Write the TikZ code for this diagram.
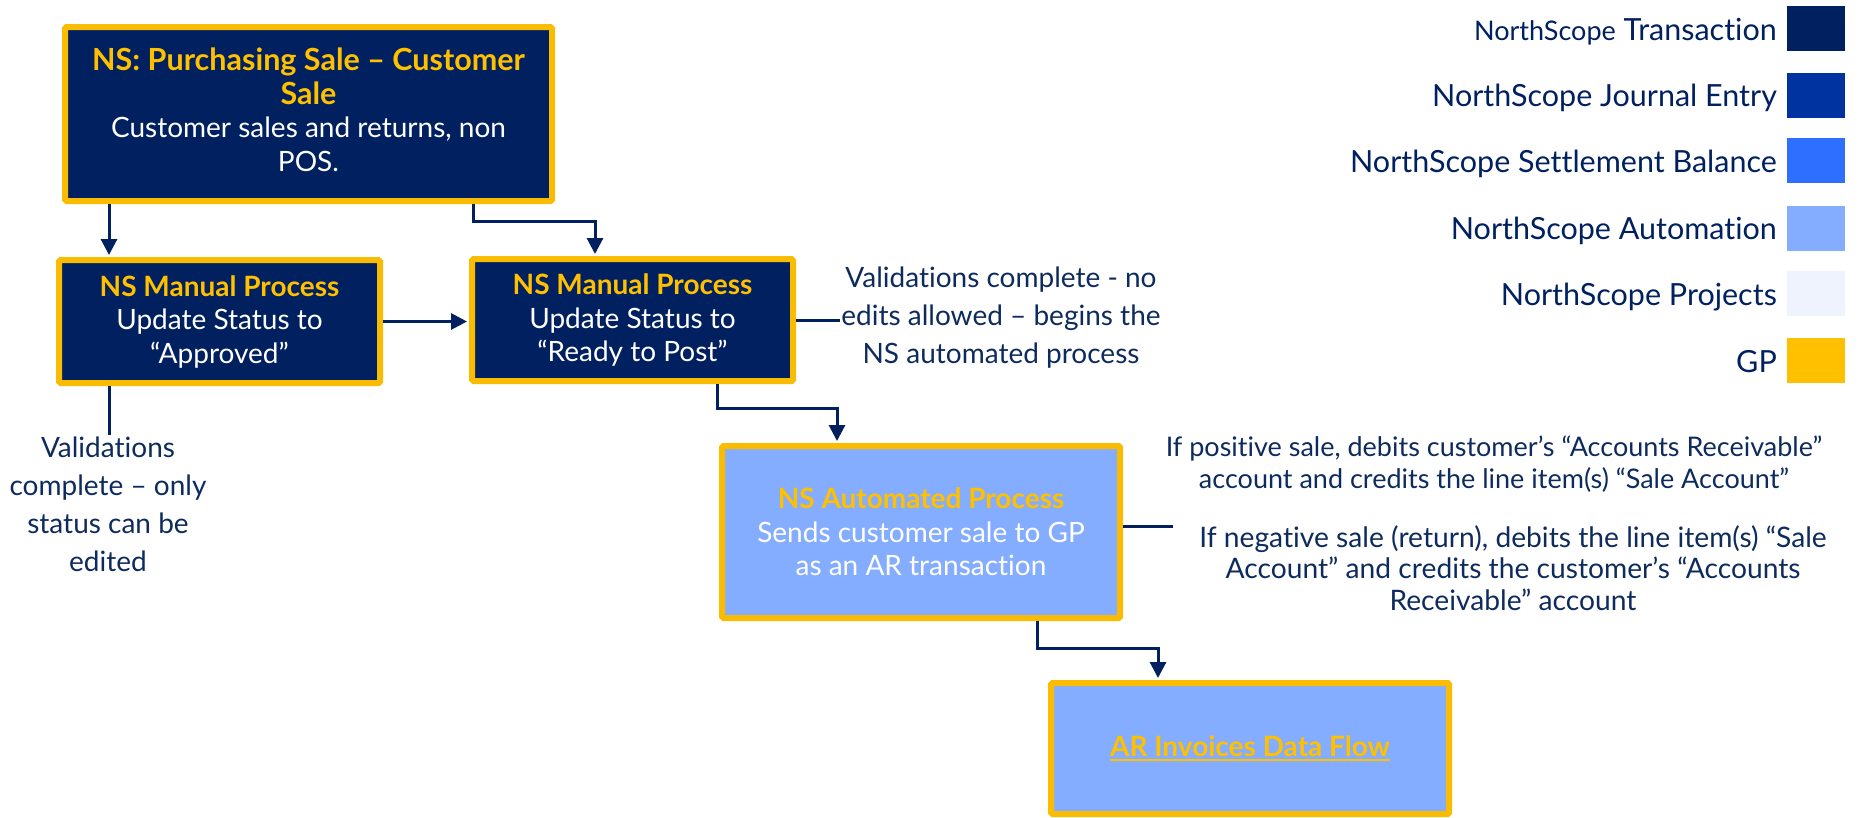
\documentclass[tikz,border=0pt]{standalone}
\usepackage{fontspec}
\setmainfont[RawFeature={-liga;-dlig}]{Lato}
\usetikzlibrary{arrows.meta,calc}
\definecolor{navy}{HTML}{002060}
\definecolor{jec}{HTML}{0033A0}
\definecolor{sbc}{HTML}{2F6FFF}
\definecolor{autoc}{HTML}{85ADFF}
\definecolor{projc}{HTML}{EEF3FE}
\definecolor{gpy}{HTML}{FFC000}
\definecolor{bordy}{HTML}{F9BC00}
\definecolor{notec}{HTML}{0E2B5E}
\newcommand\thickul[1]{\leavevmode\vtop{\hbox{#1}\kern1.5pt\hrule height 2.5pt}}
\newcommand\bigttl[1]{\textbf{\fontsize{30.5}{35}\selectfont\color{gpy}#1}}
\begin{document}
\begin{tikzpicture}[x=1pt,y=-1pt,
  boxbase/.style={draw=bordy, line width=6pt, rounded corners=1.5pt, align=center, inner sep=0pt, font=\fontsize{28}{33.5}\selectfont},
  tbox/.style={boxbase, fill=navy, text=white},
  abox/.style={boxbase, fill=autoc, text=white},
  arr/.style={draw=navy, line width=3pt, shorten >=2pt, -{Triangle[length=16pt,width=16pt]}},
  con/.style={draw=navy, line width=3pt},
  notetxt/.style={text=notec, align=center, font=\fontsize{28}{38}\selectfont, inner sep=1pt},
  notetxtb/.style={text=notec, align=center, font=\fontsize{27}{32}\selectfont, inner sep=1pt},
  notetxtc/.style={text=notec, align=center, font=\fontsize{28.2}{31.5}\selectfont, inner sep=1pt},
  legtxt/.style={anchor=east, text=navy, font=\fontsize{30.5}{36}\selectfont, inner sep=0pt},
  swatch/.style={minimum width=58pt, minimum height=45pt, inner sep=0pt, anchor=north west, draw=none}
]
\useasboundingbox (0,0) rectangle (1873,817);

% legend
\node[legtxt] (l1) at (1777,32) {{\fontsize{27}{30}\selectfont NorthScope} Transaction};
\node[legtxt] (l2) at (1777,98) {NorthScope Journal Entry};
\node[legtxt] (l3) at (1777,164) {NorthScope Settlement Balance};
\node[legtxt] (l4) at (1777,231) {NorthScope Automation};
\node[legtxt] (l5) at (1777,297) {NorthScope Projects};
\node[legtxt] (l6) at (1777,362) {GP};
\node[swatch, fill=navy] (s1) at (1787,6) {};
\node[swatch, fill=jec] (s2) at (1787,73) {};
\node[swatch, fill=sbc] (s3) at (1787,138) {};
\node[swatch, fill=autoc] (s4) at (1787,206) {};
\node[swatch, fill=projc] (s5) at (1787,271) {};
\node[swatch, fill=gpy] (s6) at (1787,338) {};

% boxes
\node[tbox, minimum width=487pt, minimum height=174pt] (b1) at (308.5,114) {};
\node[align=center, text=white, inner sep=0pt, font=\fontsize{28}{33.5}\selectfont] (b1t) at ([yshift=4pt]b1.center)
  {\bigttl{NS: Purchasing Sale – Customer}\\\bigttl{Sale}\\Customer sales and returns, non\\POS.};
\node[tbox, minimum width=321pt, minimum height=123pt] (b2) at (219.5,321.5)
  {\textbf{\color{gpy}NS Manual Process}\\Update Status to\\“Approved”};
\node[tbox, minimum width=321pt, minimum height=122pt] (b3) at (632.5,320)
  {\textbf{\color{gpy}NS Manual Process}\\Update Status to\\“Ready to Post”};
\node[abox, minimum width=398pt, minimum height=172pt] (b4) at (921,532)
  {\textbf{\color{gpy}NS Automated Process}\\Sends customer sale to GP\\as an AR transaction};
\node[abox, minimum width=398pt, minimum height=131pt] (b5) at (1250,748.5)
  {\color{gpy}\thickul{\textbf{AR Invoices Data Flow}}};

% notes
\node[notetxt] (n1) at (108,504) {Validations\\complete – only\\status can be\\edited};
\node[notetxt] (n2) at (1001,318) {Validations complete - no\\edits allowed – begins the\\NS automated process};
\node[notetxtb] (n3) at (1494,464) {If positive sale, debits customer’s “Accounts Receivable”\\account and credits the line item(s) “Sale Account”};
\node[notetxtc] (n4) at (1513,568) {If negative sale (return), debits the line item(s) “Sale\\Account” and credits the customer’s “Accounts\\Receivable” account};

% helper coordinates
\coordinate (x1) at (109,0);
\coordinate (x2) at (473,0);
\coordinate (x3) at (595,0);
\coordinate (x4) at (717,0);
\coordinate (x5) at (837,0);
\coordinate (x6) at (1037,0);
\coordinate (x7) at (1158,0);
\coordinate (e4) at (1173,526);

% connectors
\draw[arr] (b1.south -| x1) -- (b2.north -| x1);
\draw[arr] (b1.south -| x2) -- ++(0,17) -| (b3.north -| x3);
\draw[arr] (b2.east) -- (b2.east -| b3.west);
\draw[con] (b2.south -| x1) -- (n1.north -| x1);
\draw[con] (b3.east) -- (n2.west |- b3.east);
\draw[arr] (b3.south -| x4) -- ++(0,24) -| (b4.north -| x5);
\draw[con] (b4.east |- e4) -- (e4);
\draw[arr] (b4.south -| x6) -- ++(0,27) -| (b5.north -| x7);
\end{tikzpicture}
\end{document}
